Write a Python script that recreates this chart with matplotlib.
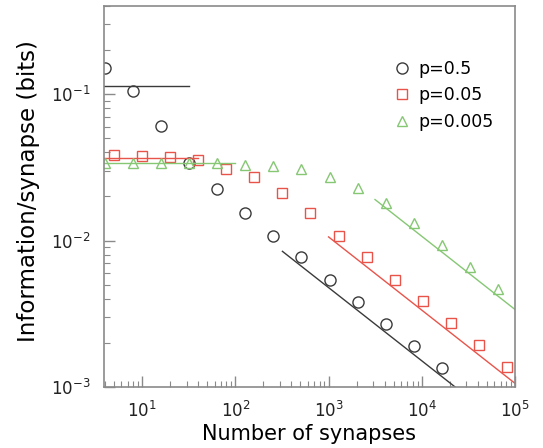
import numpy as np
import matplotlib
matplotlib.use("Agg")
import matplotlib.pyplot as plt

# donnees
n_05 = [4, 8, 16, 32, 64, 128, 256, 512, 1024, 2048, 4096, 8192, 16384]
info_05 = [0.15, 0.105, 0.0605, 0.034, 0.0226, 0.0155, 0.0108, 0.0077,
           0.0054, 0.0038, 0.0027, 0.0019, 0.00134]

n_005 = [5, 10, 20, 40, 80, 160, 320, 640, 1280, 2560, 5120, 10240,
         20480, 40960, 81920]
info_005 = [0.0385, 0.038, 0.037, 0.0355, 0.031, 0.027, 0.0212, 0.0155,
            0.0108, 0.0077, 0.0054, 0.00385, 0.00275, 0.00194, 0.00136]

n_0005 = [4, 8, 16, 32, 64, 128, 256, 512, 1024, 2048, 4096, 8192,
          16384, 32768, 65536]
info_0005 = [0.034, 0.034, 0.034, 0.034, 0.034, 0.033, 0.0325, 0.031,
             0.0273, 0.023, 0.018, 0.0132, 0.0093, 0.0066, 0.0047]

# asymptotes: plateau (niveau, fin) et pente -1/2 (coefficient, debut)
plateau = {"0.5": (0.113, 32), "0.05": (0.0367, 40), "0.005": (0.0337, 100)}
slope_c = {"0.5": (0.151, 320), "0.05": (0.335, 1000), "0.005": (1.07, 3150)}

colors = {"0.5": "#3a3a3a", "0.05": "#e8544a", "0.005": "#86c774"}
markers = {"0.5": "o", "0.05": "s", "0.005": "^"}
series = {"0.5": (n_05, info_05), "0.05": (n_005, info_005),
          "0.005": (n_0005, info_0005)}

fig = plt.figure(figsize=(5.43, 4.48), dpi=100)
ax = fig.add_axes([104 / 543, 1 - 387 / 448, 411 / 543, 381 / 448])

xmin, xmax = 3.9, 1e5
for p in ["0.5", "0.05", "0.005"]:
    x, y = series[p]
    ms = 8 if markers[p] == "o" else 7
    ax.plot(x, y, linestyle="none", marker=markers[p], ms=ms, mfc="none",
            mec=colors[p], mew=1.0, label="p=" + p)
    lvl, xend = plateau[p]
    ax.plot([xmin, xend], [lvl, lvl], color=colors[p], lw=1.0)
    c, xstart = slope_c[p]
    xs = np.array([xstart, xmax])
    ax.plot(xs, c / np.sqrt(xs), color=colors[p], lw=1.0)

ax.set_xscale("log")
ax.set_yscale("log")
ax.set_xlim(xmin, xmax)
ax.set_ylim(1e-3, 0.4)

for s in ax.spines.values():
    s.set_color("#8a8a8a")
    s.set_linewidth(1.2)
ax.tick_params(which="both", direction="in", colors="#8a8a8a",
               labelcolor="#222222", labelsize=12, top=False, right=False)
ax.tick_params(which="major", length=8, width=1.0, pad=10)
ax.tick_params(which="minor", length=4, width=0.8)

ax.set_xlabel("Number of synapses", fontsize=15, labelpad=2)
ax.set_ylabel("Information/synapse (bits)", fontsize=16.5)
ax.yaxis.set_label_coords(-0.155, 0.515)

leg = ax.legend(loc="upper right", bbox_to_anchor=(0.985, 0.9), frameon=False,
                fontsize=12.5, handletextpad=0.3, labelspacing=0.5,
                handlelength=1.2)

fig.savefig("out.png", dpi=100)
